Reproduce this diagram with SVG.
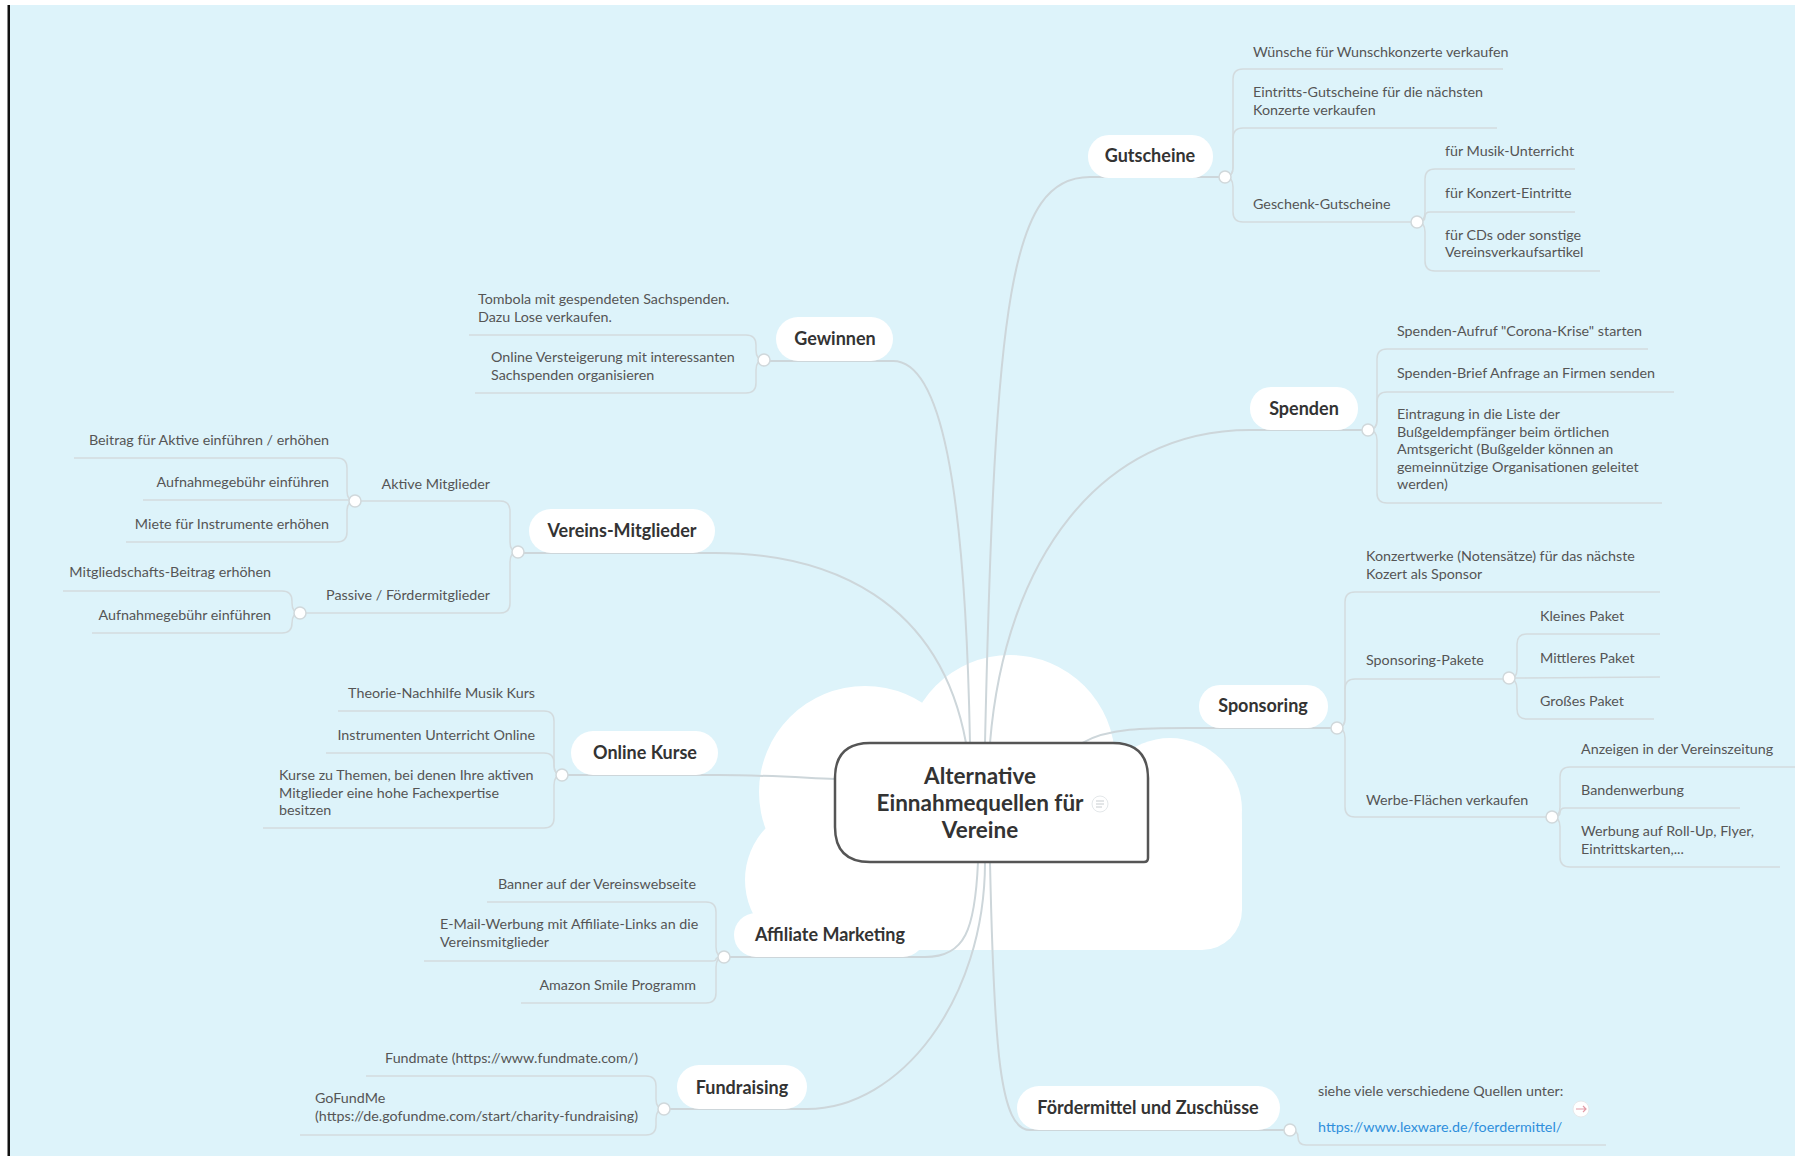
<svg xmlns="http://www.w3.org/2000/svg" width="1795" height="1156" viewBox="0 0 1795 1156">
<style>
.mt{font-family:Lato,"Liberation Sans",sans-serif;font-weight:bold;font-size:18px;fill:#333;text-anchor:middle}
.ct{font-family:Lato,"Liberation Sans",sans-serif;font-size:14.3px;fill:#555}
.e{text-anchor:end}
.pill{fill:#fff}
.conn path{fill:none;stroke:#cdd6da;stroke-width:2}
.conn path.s{stroke:#d3dbde;stroke-width:1.5}
.dot{fill:#fff;stroke:#d0d8db;stroke-width:1.5}
.cloud{fill:#fff}
</style>
<rect x="0" y="0" width="1795" height="1156" fill="#fff"/>
<rect x="9" y="5" width="1786" height="1151" fill="#ddf3fa"/>
<rect x="7.5" y="5" width="2.5" height="1151" fill="#111"/>

<g id="cloud" class="cloud">
<circle cx="1010" cy="760" r="105"/>
<circle cx="865" cy="792" r="106"/>
<circle cx="1170" cy="810" r="72"/>
<circle cx="820" cy="880" r="75"/>
<rect x="780" y="780" width="462" height="170" rx="40"/>
</g>

<g id="connectors" class="conn">
<path d="M985,743 C995,300 1010,177 1090,177 L1219,177"/>
<path d="M990,743 C1005,560 1100,430 1250,430 L1362,430"/>
<path d="M1082,743 C1110,727 1150,728 1199,728 L1331,728"/>
<path d="M990,862 C994,1050 1000,1130 1030,1130 L1284,1130"/>
<path d="M970,743 C965,480 940,361 893,361 L770,361"/>
<path d="M966,743 C940,600 830,553 715,553 L524,553"/>
<path d="M835,779 C790,777 760,775 718,775 L568,775"/>
<path d="M978,862 C975,930 965,957 925,957 L730,957"/>
<path d="M985,862 C985,1000 900,1109 807,1109 L670,1109"/>

<path class="s" d="M1225,177 Q1233,177 1233,167 L1233,79 Q1233,69 1243,69 L1503,69"/>
<path class="s" d="M1225,177 Q1233,177 1233,167 L1233,138 Q1233,128 1243,128 L1497,128"/>
<path class="s" d="M1225,177 Q1233,177 1233,187 L1233,212 Q1233,222 1243,222 L1411,222"/>
<path class="s" d="M1417,222 Q1425,222 1425,212 L1425,179 Q1425,169 1435,169 L1575,169"/>
<path class="s" d="M1417,222 Q1425,222 1425,217 Q1425,212 1430,212 L1575,212"/>
<path class="s" d="M1417,222 Q1425,222 1425,232 L1425,261 Q1425,271 1435,271 L1600,271"/>

<path class="s" d="M1368,430 Q1377,430 1377,420 L1377,359 Q1377,349 1387,349 L1648,349"/>
<path class="s" d="M1368,430 Q1377,430 1377,420 L1377,402 Q1377,392 1387,392 L1674,392"/>
<path class="s" d="M1368,430 Q1377,430 1377,440 L1377,493 Q1377,503 1387,503 L1662,503"/>

<path class="s" d="M1337,728 Q1345,728 1345,718 L1345,602 Q1345,592 1355,592 L1660,592"/>
<path class="s" d="M1337,728 Q1345,728 1345,718 L1345,689 Q1345,679 1355,679 L1503,679"/>
<path class="s" d="M1337,728 Q1345,728 1345,738 L1345,807 Q1345,817 1355,817 L1546,817"/>
<path class="s" d="M1509,679 Q1517,679 1517,669 L1517,644 Q1517,634 1527,634 L1660,634"/>
<path class="s" d="M1515,678 L1660,677"/>
<path class="s" d="M1509,679 Q1517,679 1517,689 L1517,709 Q1517,719 1527,719 L1654,719"/>
<path class="s" d="M1552,817 Q1560,817 1560,807 L1560,777 Q1560,767 1570,767 L1795,767"/>
<path class="s" d="M1552,817 Q1560,817 1560,813 Q1560,808 1565,808 L1740,808"/>
<path class="s" d="M1552,817 Q1560,817 1560,827 L1560,857 Q1560,867 1570,867 L1780,867"/>

<path class="s" d="M1290,1130 Q1298,1130 1298,1137 Q1298,1145 1306,1145 L1606,1145"/>

<path class="s" d="M764,360 Q756,360 756,350 L756,345 Q756,335 746,335 L469,335"/>
<path class="s" d="M764,360 Q756,360 756,370 L756,383 Q756,393 746,393 L475,393"/>

<path class="s" d="M518,552 Q510,552 510,542 L510,511 Q510,501 500,501 L361,501"/>
<path class="s" d="M518,552 Q510,552 510,562 L510,603 Q510,613 500,613 L306,613"/>
<path class="s" d="M355,501 Q347,501 347,491 L347,468 Q347,458 337,458 L74,458"/>
<path class="s" d="M349,500 L143,500"/>
<path class="s" d="M355,501 Q347,501 347,511 L347,532 Q347,542 337,542 L126,542"/>
<path class="s" d="M300,613 Q292,613 292,603 L292,601 Q292,591 282,591 L63,591"/>
<path class="s" d="M300,613 Q292,613 292,623 Q292,633 282,633 L92,633"/>

<path class="s" d="M562,775 Q554,775 554,765 L554,721 Q554,711 544,711 L338,711"/>
<path class="s" d="M562,775 Q554,775 554,765 L554,763 Q554,753 544,753 L326,753"/>
<path class="s" d="M562,775 Q554,775 554,785 L554,818 Q554,828 544,828 L263,828"/>

<path class="s" d="M724,957 Q716,957 716,947 L716,912 Q716,902 706,902 L487,902"/>
<path class="s" d="M724,957 Q716,957 716,959 Q716,961 712,961 L424,961"/>
<path class="s" d="M724,957 Q716,957 716,967 L716,993 Q716,1003 706,1003 L521,1003"/>

<path class="s" d="M664,1109 Q656,1109 656,1099 L656,1086 Q656,1076 646,1076 L366,1076"/>
<path class="s" d="M664,1109 Q656,1109 656,1119 L656,1125 Q656,1135 646,1135 L300,1135"/>

<circle class="dot" cx="1225" cy="177" r="6"/>
<circle class="dot" cx="1417" cy="222" r="6"/>
<circle class="dot" cx="1368" cy="430" r="6"/>
<circle class="dot" cx="1337" cy="728" r="6"/>
<circle class="dot" cx="1509" cy="678" r="6"/>
<circle class="dot" cx="1552" cy="817" r="6"/>
<circle class="dot" cx="1290" cy="1130" r="6"/>
<circle class="dot" cx="764" cy="360" r="6"/>
<circle class="dot" cx="518" cy="552" r="6"/>
<circle class="dot" cx="355" cy="501" r="6"/>
<circle class="dot" cx="300" cy="613" r="6"/>
<circle class="dot" cx="562" cy="775" r="6"/>
<circle class="dot" cx="724" cy="957" r="6"/>
<circle class="dot" cx="664" cy="1109" r="6"/>
</g>

<g id="central">
<path d="M870,743 H1113 Q1148,743 1148,778 V858 Q1148,862 1144,862 H870 Q835,862 835,827 V778 Q835,743 870,743 Z" fill="#fff" stroke="#555" stroke-width="2.5"/>
<text class="mt" style="font-size:22.5px" x="980" y="784">Alternative</text>
<text class="mt" style="font-size:22.5px" x="980" y="811">Einnahmequellen für</text>
<text class="mt" style="font-size:22.5px" x="980" y="838">Vereine</text>
<circle cx="1100" cy="804" r="8" fill="#fff" stroke="#e4e8ea" stroke-width="1"/>
<path d="M1096,801 H1104 M1096,804 H1104 M1096,807 H1102" stroke="#c8cdd0" stroke-width="1" fill="none"/>
</g>

<g id="gutscheine"><rect class="pill" x="1088" y="135" width="125" height="43" rx="21"/><text class="mt" x="1150" y="162">Gutscheine</text></g>
<g id="spenden"><rect class="pill" x="1250" y="387" width="108" height="43" rx="21"/><text class="mt" x="1304" y="415">Spenden</text></g>
<g id="sponsoring"><rect class="pill" x="1199" y="685" width="129" height="43" rx="21"/><text class="mt" x="1263" y="712">Sponsoring</text></g>
<g id="foerdermittel"><rect class="pill" x="1017" y="1086" width="263" height="44" rx="22"/><text class="mt" x="1148" y="1114">Fördermittel und Zuschüsse</text></g>
<g id="gewinnen"><rect class="pill" x="776" y="317" width="117" height="44" rx="22"/><text class="mt" x="835" y="345">Gewinnen</text></g>
<g id="vereins-mitglieder"><rect class="pill" x="529" y="509" width="186" height="44" rx="22"/><text class="mt" x="622" y="537">Vereins-Mitglieder</text></g>
<g id="online-kurse"><rect class="pill" x="571" y="731" width="147" height="44" rx="22"/><text class="mt" x="645" y="759">Online Kurse</text></g>
<g id="affiliate-marketing"><rect class="pill" x="734" y="913" width="191" height="44" rx="22"/><text class="mt" x="830" y="941">Affiliate Marketing</text></g>
<g id="fundraising"><rect class="pill" x="677" y="1065" width="130" height="44" rx="22"/><text class="mt" x="742" y="1094">Fundraising</text></g>

<g id="g-wuensche"><text class="ct" x="1253" y="57">Wünsche für Wunschkonzerte verkaufen</text></g>
<g id="g-eintritts"><text class="ct" x="1253" y="97">Eintritts-Gutscheine für die nächsten</text><text class="ct" x="1253" y="115">Konzerte verkaufen</text></g>
<g id="g-geschenk"><text class="ct" x="1253" y="209">Geschenk-Gutscheine</text></g>
<g id="g-musik"><text class="ct" x="1445" y="156">für Musik-Unterricht</text></g>
<g id="g-konzert"><text class="ct" x="1445" y="198">für Konzert-Eintritte</text></g>
<g id="g-cds"><text class="ct" x="1445" y="240">für CDs oder sonstige</text><text class="ct" x="1445" y="257">Vereinsverkaufsartikel</text></g>

<g id="s-aufruf"><text class="ct" x="1397" y="336">Spenden-Aufruf "Corona-Krise" starten</text></g>
<g id="s-brief"><text class="ct" x="1397" y="378">Spenden-Brief Anfrage an Firmen senden</text></g>
<g id="s-liste"><text class="ct" x="1397" y="419">Eintragung in die Liste der</text><text class="ct" x="1397" y="437">Bußgeldempfänger beim örtlichen</text><text class="ct" x="1397" y="454">Amtsgericht (Bußgelder können an</text><text class="ct" x="1397" y="472">gemeinnützige Organisationen geleitet</text><text class="ct" x="1397" y="489">werden)</text></g>

<g id="sp-konzertwerke"><text class="ct" x="1366" y="561">Konzertwerke (Notensätze) für das nächste</text><text class="ct" x="1366" y="579">Kozert als Sponsor</text></g>
<g id="sp-pakete"><text class="ct" x="1366" y="665">Sponsoring-Pakete</text></g>
<g id="sp-klein"><text class="ct" x="1540" y="621">Kleines Paket</text></g>
<g id="sp-mittel"><text class="ct" x="1540" y="663">Mittleres Paket</text></g>
<g id="sp-gross"><text class="ct" x="1540" y="706">Großes Paket</text></g>
<g id="sp-werbe"><text class="ct" x="1366" y="805">Werbe-Flächen verkaufen</text></g>
<g id="sp-anzeigen"><text class="ct" x="1581" y="754">Anzeigen in der Vereinszeitung</text></g>
<g id="sp-banden"><text class="ct" x="1581" y="795">Bandenwerbung</text></g>
<g id="sp-rollup"><text class="ct" x="1581" y="836">Werbung auf Roll-Up, Flyer,</text><text class="ct" x="1581" y="854">Eintrittskarten,...</text></g>

<g id="f-quellen"><text class="ct" x="1318" y="1096">siehe viele verschiedene Quellen unter:</text><text class="ct" x="1318" y="1132" style="fill:#2f8fdc">https://www.lexware.de/foerdermittel/</text>
<circle cx="1581" cy="1109" r="8" fill="#fff" stroke="#e6e9eb" stroke-width="1"/>
<path d="M1576,1109 H1586 M1583,1106 L1586,1109 L1583,1112" fill="none" stroke="#e29aa6" stroke-width="1.2"/></g>

<g id="gw-tombola"><text class="ct" x="478" y="304">Tombola mit gespendeten Sachspenden.</text><text class="ct" x="478" y="322">Dazu Lose verkaufen.</text></g>
<g id="gw-online"><text class="ct" x="491" y="362">Online Versteigerung mit interessanten</text><text class="ct" x="491" y="380">Sachspenden organisieren</text></g>

<g id="vm-aktive"><text class="ct e" x="490" y="489">Aktive Mitglieder</text></g>
<g id="vm-beitrag"><text class="ct e" x="329" y="445">Beitrag für Aktive einführen / erhöhen</text></g>
<g id="vm-aufnahme1"><text class="ct e" x="329" y="487">Aufnahmegebühr einführen</text></g>
<g id="vm-miete"><text class="ct e" x="329" y="529">Miete für Instrumente erhöhen</text></g>
<g id="vm-passive"><text class="ct e" x="490" y="600">Passive / Fördermitglieder</text></g>
<g id="vm-mitgliedschaft"><text class="ct e" x="271" y="577">Mitgliedschafts-Beitrag erhöhen</text></g>
<g id="vm-aufnahme2"><text class="ct e" x="271" y="620">Aufnahmegebühr einführen</text></g>

<g id="ok-theorie"><text class="ct e" x="535" y="698">Theorie-Nachhilfe Musik Kurs</text></g>
<g id="ok-instrumente"><text class="ct e" x="535" y="740">Instrumenten Unterricht Online</text></g>
<g id="ok-kurse"><text class="ct" x="279" y="780">Kurse zu Themen, bei denen Ihre aktiven</text><text class="ct" x="279" y="797.5">Mitglieder eine hohe Fachexpertise</text><text class="ct" x="279" y="815">besitzen</text></g>

<g id="am-banner"><text class="ct e" x="696" y="889">Banner auf der Vereinswebseite</text></g>
<g id="am-email"><text class="ct" x="440" y="929">E-Mail-Werbung mit Affiliate-Links an die</text><text class="ct" x="440" y="947">Vereinsmitglieder</text></g>
<g id="am-amazon"><text class="ct e" x="696" y="990">Amazon Smile Programm</text></g>

<g id="fr-fundmate"><text class="ct e" x="638" y="1063">Fundmate (https://www.fundmate.com/)</text></g>
<g id="fr-gofundme"><text class="ct" x="315" y="1103">GoFundMe</text><text class="ct" x="315" y="1121">(https://de.gofundme.com/start/charity-fundraising)</text></g>
</svg>
